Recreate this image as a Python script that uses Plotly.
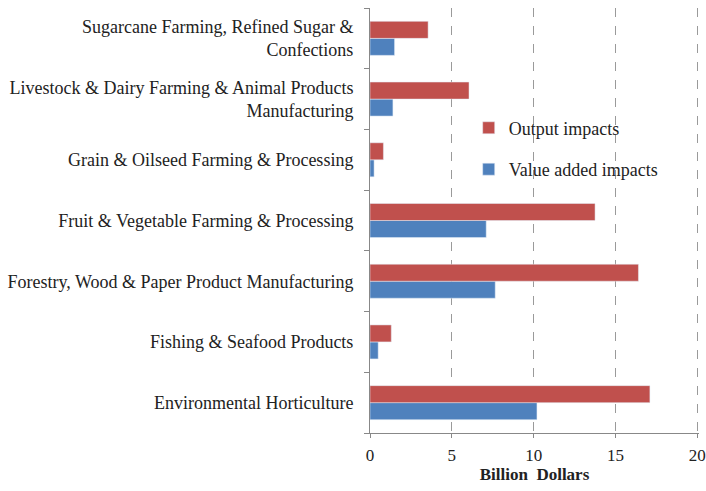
import plotly.graph_objects as go

categories = [
    "Environmental Horticulture",
    "Fishing & Seafood Products",
    "Forestry, Wood & Paper Product Manufacturing",
    "Fruit & Vegetable Farming & Processing",
    "Grain & Oilseed Farming & Processing",
    "Livestock & Dairy Farming & Animal Products<br>Manufacturing",
    "Sugarcane Farming, Refined Sugar &<br>Confections",
]
output_impacts = [17.1, 1.3, 16.4, 13.75, 0.82, 6.05, 3.55]
value_added_impacts = [10.2, 0.5, 7.65, 7.1, 0.25, 1.4, 1.5]
x_ticks = [0, 5, 10, 15, 20]

font = "Liberation Serif"

fig = go.Figure()
fig.add_trace(go.Bar(
    y=categories, x=value_added_impacts, orientation="h",
    name="Value added impacts", marker_color="#4F81BD",
    legendgroup="b", legendrank=2,
))
fig.add_trace(go.Bar(
    y=categories, x=output_impacts, orientation="h",
    name="Output impacts", marker_color="#C0504D",
    legendgroup="a", legendrank=1,
))

fig.update_layout(
    width=706, height=491,
    margin=dict(l=370, r=7, t=8, b=58),
    paper_bgcolor="white", plot_bgcolor="white",
    barmode="group", bargap=0.44, bargroupgap=0,
    font=dict(family=font, size=18, color="#222"),
    legend=dict(
        x=0.30, y=0.761, xanchor="left", yanchor="top",
        traceorder="grouped", tracegroupgap=15, itemwidth=30,
        font=dict(size=18, family=font, color="#222"),
        bgcolor="rgba(0,0,0,0)",
    ),
    xaxis=dict(
        range=[0, 20.1], tickvals=x_ticks, ticktext=[str(v) for v in x_ticks],
        showgrid=True, gridcolor="#9a9a9a", griddash="dash", gridwidth=1,
        showline=True, linecolor="#888", linewidth=1,
        zeroline=False, ticks="outside", ticklen=4, tickcolor="#888",
        tickfont=dict(size=17), ticklabeloverflow="allow", ticklabelstandoff=3,
        automargin=False,
        title=dict(text="<b>Billion&nbsp;&nbsp;Dollars</b>", font=dict(size=17), standoff=2),
    ),
    yaxis=dict(
        showline=True, linecolor="#888", linewidth=1,
        ticks="outside", ticklen=5, tickcolor="#888", tickson="boundaries",
        showgrid=False, tickfont=dict(size=18), ticklabelstandoff=12,
    ),
)

# remove the default page margin so the figure fills the window exactly
fig.write_html(
    "out.html",
    config={"displayModeBar": False},
    post_script="document.body.style.margin='0';document.body.style.overflow='hidden';",
)
